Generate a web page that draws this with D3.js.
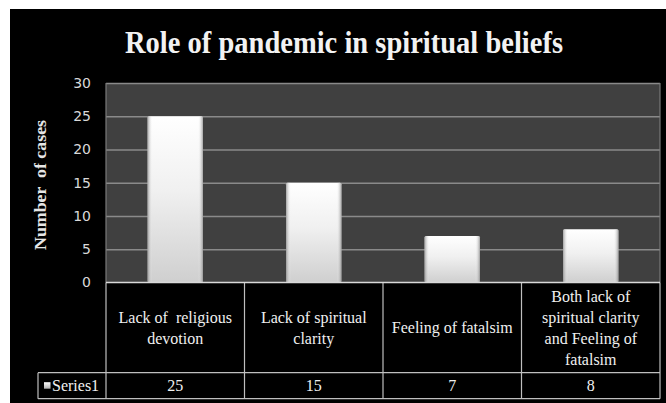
<!DOCTYPE html>
<html>
<head>
<meta charset="utf-8">
<script src="https://cdn.jsdelivr.net/npm/d3@7"></script>
<style>
  html, body { margin: 0; padding: 0; background: #ffffff; }
  svg { display: block; }
  text { white-space: pre; }
  .serif { font-family: "Liberation Serif", "Times New Roman", serif; }
  .sans { font-family: "DejaVu Sans", sans-serif; }
</style>
</head>
<body>
<svg id="chart" width="666" height="403"></svg>
<script>
const title = "Role of pandemic in spiritual beliefs";
const yTitle = "Number  of cases";
const seriesName = "Series1";
const categories = [
  "Lack of religious devotion",
  "Lack of spiritual clarity",
  "Feeling of fatalsim",
  "Both lack of spiritual clarity and Feeling of fatalsim"
];
const categoryLines = [
  ["Lack of  religious", "devotion"],
  ["Lack of spiritual", "clarity"],
  ["Feeling of fatalsim"],
  ["Both lack of", "spiritual clarity", "and Feeling of", "fatalsim"]
];
const values = [25, 15, 7, 8];
const yTicks = [0, 5, 10, 15, 20, 25, 30];

const svg = d3.select("#chart");
const W = 666, H = 403;
const plot = { left: 106, right: 660, top: 83, bottom: 282.5 };
const tableCatBottom = 372.7, tableSerBottom = 398.7, tableLeft = 38;

// background
svg.append("rect").attr("x", 10).attr("y", 9).attr("width", W - 10).attr("height", H - 9).attr("fill", "#000");

const defs = svg.append("defs");
const gv = defs.append("linearGradient").attr("id", "barV").attr("x1", 0).attr("y1", 0).attr("x2", 0).attr("y2", 1);
gv.append("stop").attr("offset", "0%").attr("stop-color", "#ffffff");
gv.append("stop").attr("offset", "45%").attr("stop-color", "#f0f0f0");
gv.append("stop").attr("offset", "100%").attr("stop-color", "#cfcfcf");
const gh = defs.append("linearGradient").attr("id", "barH").attr("x1", 0).attr("y1", 0).attr("x2", 1).attr("y2", 0);
gh.append("stop").attr("offset", "0%").attr("stop-color", "#808080").attr("stop-opacity", 0.7);
gh.append("stop").attr("offset", "9%").attr("stop-color", "#ffffff").attr("stop-opacity", 0);
gh.append("stop").attr("offset", "91%").attr("stop-color", "#ffffff").attr("stop-opacity", 0);
gh.append("stop").attr("offset", "100%").attr("stop-color", "#808080").attr("stop-opacity", 0.7);
const gl = defs.append("linearGradient").attr("id", "legendG").attr("x1", 0).attr("y1", 0).attr("x2", 0).attr("y2", 1);
gl.append("stop").attr("offset", "0%").attr("stop-color", "#ffffff");
gl.append("stop").attr("offset", "100%").attr("stop-color", "#b0b0b0");

const x = d3.scaleBand().domain(categories).range([plot.left, plot.right]).paddingInner(0.6).paddingOuter(0.3);
const xCells = d3.scaleBand().domain(categories).range([plot.left, plot.right]).padding(0);
const y = d3.scaleLinear().domain([0, 30]).range([plot.bottom, plot.top]);

// plot area
svg.append("rect").attr("x", plot.left).attr("y", plot.top).attr("width", plot.right - plot.left)
  .attr("height", plot.bottom - plot.top).attr("fill", "#404040");

// gridlines
const grid = svg.append("g").attr("transform", `translate(${plot.left},0)`)
  .call(d3.axisLeft(y).tickValues(yTicks.filter(d => d > 0)).tickSize(-(plot.right - plot.left)).tickFormat(""));
grid.select(".domain").remove();
grid.selectAll("line").attr("stroke", "#8a8a8a").attr("stroke-width", 1.5);

// plot border left/right
svg.append("line").attr("x1", plot.left).attr("x2", plot.left).attr("y1", plot.top).attr("y2", plot.bottom).attr("stroke", "#7a7a7a").attr("stroke-width", 1.2);
svg.append("line").attr("x1", plot.right).attr("x2", plot.right).attr("y1", plot.top).attr("y2", plot.bottom).attr("stroke", "#7a7a7a").attr("stroke-width", 1.2);

// bars
const bars = svg.append("g");
bars.selectAll("rect.base").data(values).join("rect").attr("class", "base")
  .attr("x", (d, i) => x(categories[i])).attr("width", x.bandwidth())
  .attr("y", d => y(d)).attr("height", d => y(0) - y(d))
  .attr("fill", "url(#barV)").attr("rx", 1.5);
bars.selectAll("rect.edge").data(values).join("rect").attr("class", "edge")
  .attr("x", (d, i) => x(categories[i])).attr("width", x.bandwidth())
  .attr("y", d => y(d)).attr("height", d => y(0) - y(d))
  .attr("fill", "url(#barH)").attr("rx", 1.5);

// y axis labels
const ya = svg.append("g").attr("transform", `translate(${plot.left},0)`)
  .call(d3.axisLeft(y).tickValues(yTicks).tickSize(0).tickPadding(15));
ya.select(".domain").remove();
ya.attr("font-family", null).attr("font-size", null);
ya.selectAll("text").attr("class", "sans").attr("fill", "#d9d9d9").style("font-size", "14px");

// y title
svg.append("text").attr("class", "serif").attr("transform", "translate(46,185) rotate(-90)").attr("text-anchor", "middle")
  .style("font-weight", "bold").style("font-size", "16px")
  .attr("fill", "#e6e6e6").attr("textLength", 130).attr("lengthAdjust", "spacingAndGlyphs").text(yTitle);

// title
svg.append("text").attr("class", "serif").attr("x", 344).attr("y", 53).attr("text-anchor", "middle")
  .style("font-weight", "bold").style("font-size", "32px")
  .attr("fill", "#f2f2f2").attr("textLength", 438).attr("lengthAdjust", "spacingAndGlyphs").text(title);

// data table
const tcol = "#bfbfbf";
const table = svg.append("g").attr("stroke", tcol).attr("stroke-width", 1.2).attr("fill", "none");
table.append("line").attr("x1", plot.left).attr("x2", plot.right).attr("y1", tableCatBottom).attr("y2", tableCatBottom);
table.append("line").attr("x1", tableLeft).attr("x2", plot.left).attr("y1", tableCatBottom).attr("y2", tableCatBottom);
table.append("line").attr("x1", tableLeft).attr("x2", plot.right).attr("y1", tableSerBottom).attr("y2", tableSerBottom);
categories.forEach(c => {
  table.append("line").attr("x1", xCells(c)).attr("x2", xCells(c)).attr("y1", plot.bottom).attr("y2", tableSerBottom);
});
table.append("line").attr("x1", plot.right).attr("x2", plot.right).attr("y1", plot.bottom).attr("y2", tableSerBottom);
table.append("line").attr("x1", tableLeft).attr("x2", tableLeft).attr("y1", tableCatBottom).attr("y2", tableSerBottom);

// axis baseline
svg.append("line").attr("x1", plot.left).attr("x2", plot.right).attr("y1", plot.bottom).attr("y2", plot.bottom)
  .attr("stroke", "#d9d9d9").attr("stroke-width", 1.5);

// category labels
const catMid = (plot.bottom + tableCatBottom) / 2;
const lh = 21;
categoryLines.forEach((lines, i) => {
  const cx = xCells(categories[i]) + xCells.bandwidth() / 2;
  const t = svg.append("text").attr("class", "serif").attr("text-anchor", "middle")
    .style("font-size", "16px").attr("fill", "#f0f0f0");
  lines.forEach((ln, j) => {
    t.append("tspan").attr("x", cx).attr("y", catMid + (j - (lines.length - 1) / 2) * lh + 5.5).text(ln);
  });
});

// series row
const serMid = (tableCatBottom + tableSerBottom) / 2;
svg.append("rect").attr("x", 44).attr("y", serMid - 3.5).attr("width", 6.5).attr("height", 6.5).attr("fill", "url(#legendG)");
svg.append("text").attr("class", "serif").attr("x", 52).attr("y", serMid + 5.5)
  .style("font-size", "16px").attr("fill", "#f0f0f0").text(seriesName);
values.forEach((v, i) => {
  svg.append("text").attr("class", "serif").attr("x", xCells(categories[i]) + xCells.bandwidth() / 2).attr("y", serMid + 5.5)
    .attr("text-anchor", "middle").style("font-size", "16px")
    .attr("fill", "#f0f0f0").text(v);
});
</script>
</body>
</html>
